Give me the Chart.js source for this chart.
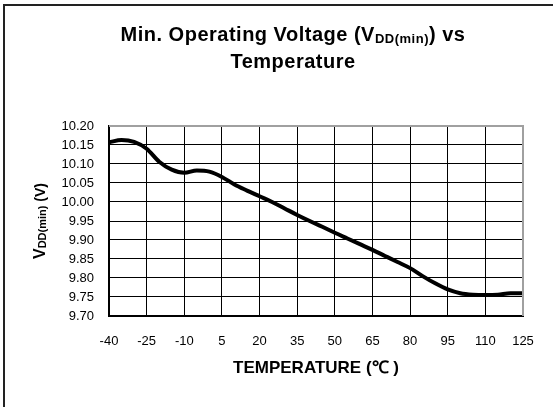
<!DOCTYPE html>
<html>
<head>
<meta charset="utf-8">
<script src="https://cdn.jsdelivr.net/npm/chart.js@4"></script>
<style>
  html, body { margin: 0; padding: 0; background: #fff; }
  canvas { display: block; }
</style>
</head>
<body>
<canvas id="chart" width="553" height="407"></canvas>
<script>
// Datos (cada 5 °C)
const temperatures = [-40, -35, -30, -25, -20, -15, -10, -5, 0, 5, 10, 15, 20, 25, 30, 35, 40, 45, 50, 55,
  60, 65, 70, 75, 80, 85, 90, 95, 100, 105, 110, 115, 120, 125];
const vddMin = [10.157, 10.163, 10.158, 10.140, 10.106, 10.085, 10.077, 10.083, 10.080, 10.066, 10.046, 10.030,
  10.015, 10.000, 9.983, 9.966, 9.950, 9.935, 9.919, 9.904, 9.889, 9.874, 9.858, 9.842, 9.826, 9.805,
  9.786, 9.770, 9.760, 9.756, 9.755, 9.756, 9.760, 9.760];

const xTickValues = [-40, -25, -10, 5, 20, 35, 50, 65, 80, 95, 110, 125];
const yTickValues = [9.70, 9.75, 9.80, 9.85, 9.90, 9.95, 10.00, 10.05, 10.10, 10.15, 10.20];

const FONT = '"Liberation Sans", Arial, sans-serif';

// dibuja texto con subíndices, centrado en x
function drawRuns(c, runs, cx, baseY) {
  let total = 0;
  runs.forEach(r => {
    c.font = r.font;
    r.w = c.measureText(r.text).width;
    total += r.w;
  });
  let x = cx - total / 2;
  runs.forEach(r => {
    c.font = r.font;
    c.fillText(r.text, x, baseY + (r.dy || 0));
    x += r.w;
  });
}

const decoPlugin = {
  id: 'deco',
  afterDraw(chart) {
    const c = chart.ctx;
    const a = chart.chartArea;
    c.save();
    // borde superior y derecho del área en gris
    c.fillStyle = '#a0a0a0';
    c.fillRect(a.left, a.top - 1, a.right - a.left + 1, 2);
    c.fillRect(a.right - 1, a.top - 1, 2, a.bottom - a.top + 1);

    // marco exterior (izquierda y arriba)
    c.fillStyle = '#222';
    c.fillRect(3, 4, 550, 2);
    c.fillRect(3, 4, 2, 403);

    // título
    c.fillStyle = '#000';
    c.textBaseline = 'alphabetic';
    c.textAlign = 'left';
    c.letterSpacing = '0.5px';
    const big = 'bold 20px ' + FONT;
    const small = 'bold 13px ' + FONT;
    drawRuns(c, [
      { text: 'Min. Operating Voltage (V', font: big },
      { text: 'DD(min)', font: small, dy: 2 },
      { text: ') vs', font: big }
    ], 293, 41);
    drawRuns(c, [{ text: 'Temperature', font: big }], 293, 68);
    c.letterSpacing = '0px';

    // título del eje Y
    c.translate(45, (a.top + a.bottom) / 2);
    c.rotate(-Math.PI / 2);
    drawRuns(c, [
      { text: 'V', font: 'bold 16px ' + FONT },
      { text: 'DD(min)', font: 'bold 11px ' + FONT, dy: 1 },
      { text: ' (V)', font: 'bold 14px ' + FONT }
    ], 0, 0);
    c.restore();
  }
};

new Chart(document.getElementById('chart').getContext('2d'), {
  type: 'line',
  data: {
    datasets: [{
      data: temperatures.map((t, i) => ({ x: t, y: vddMin[i] })),
      borderColor: '#000',
      borderWidth: 4,
      pointRadius: 0,
      cubicInterpolationMode: 'monotone',
      fill: false,
      clip: false
    }]
  },
  options: {
    responsive: false,
    animation: false,
    layout: { padding: { left: 0, right: 30, top: 126, bottom: 0 } },
    scales: {
      x: {
        type: 'linear',
        min: -40,
        max: 125,
        afterBuildTicks: s => { s.ticks = xTickValues.map(v => ({ value: v })); },
        afterFit: s => { s.height = 91; },
        ticks: {
          color: '#000',
          font: { family: FONT, size: 13 },
          padding: 18,
          maxRotation: 0,
          autoSkip: false
        },
        grid: { color: '#000', lineWidth: 1, drawTicks: false },
        border: { color: '#000', width: 2 },
        title: {
          display: true,
          text: 'TEMPERATURE (℃ )',
          color: '#000',
          font: { family: FONT, size: 17, weight: 'bold' },
          padding: { top: 4, bottom: 28 }
        }
      },
      y: {
        min: 9.70,
        max: 10.20,
        afterBuildTicks: s => { s.ticks = yTickValues.map(v => ({ value: v })); },
        afterFit: s => { s.width = 109; },
        ticks: {
          color: '#000',
          font: { family: FONT, size: 13 },
          padding: 15,
          callback: v => v.toFixed(2)
        },
        grid: { color: '#000', lineWidth: 1, drawTicks: false },
        border: { color: '#000', width: 2 }
      }
    },
    plugins: {
      legend: { display: false },
      tooltip: { enabled: false }
    }
  },
  plugins: [decoPlugin]
});
</script>
</body>
</html>
